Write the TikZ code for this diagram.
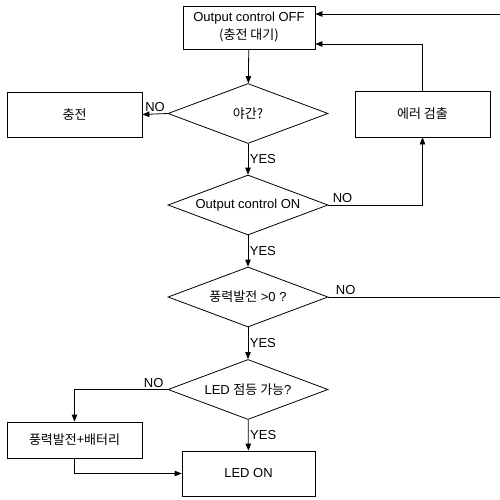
\documentclass[tikz,border=0pt]{standalone}
\usepackage{fontspec}
\setmainfont{Liberation Sans}
\newfontfamily\kr{Noto Sans CJK KR}
\usetikzlibrary{arrows.meta,shapes.geometric}

\begin{document}
\begin{tikzpicture}[x=1pt,y=-1pt,font=\fontsize{13}{16}\selectfont,
  line width=0.8pt,>={Triangle[length=7pt,width=5.5pt]},
  procbox/.style={draw,rectangle,inner sep=0pt,align=center},
  decide/.style={draw,diamond,inner sep=0pt,minimum width=160pt,minimum height=60pt,aspect=2.67},
  lbl/.style={inner sep=1.5pt}]
  \useasboundingbox (0,0) rectangle (499,500);
  % boxes
  \node[procbox,minimum width=132pt,minimum height=43pt] (off) at (249,27.5) {Output control OFF\\[2pt]{\kr (충전 대기)}};
  \node[procbox,minimum width=135pt,minimum height=45pt] (chg) at (74.5,114.5) {\kr 충전};
  \node[procbox,minimum width=135pt,minimum height=46pt] (err) at (422.5,114) {\kr 에러 검출};
  \node[procbox,minimum width=135pt,minimum height=36pt] (bat) at (74.5,440) {\kr 풍력발전+배터리};
  \node[procbox,minimum width=133pt,minimum height=45pt] (led) at (248.5,473.5) {LED ON};
  % decisions
  \node[decide] (night) at (248,113.5) {\kr 야간?};
  \node[decide] (ctrl) at (248,205) {Output control ON};
  \node[decide] (wind) at (248,297) {{\kr 풍력발전} >0 ?};
  \node[decide] (lamp) at (248,389.5) {LED {\kr 점등 가능}?};
  \coordinate (rim) at (501,0);
  % connectors
  \draw[->] (off) -- (night);
  \draw[->] (night.west) -- node[lbl,above]{NO} (chg.east);
  \draw[->] (night) -- node[lbl,right,pos=0.5]{YES} (ctrl);
  \draw[->] (ctrl.east) -- node[lbl,above,pos=0.15]{NO} (ctrl.east -| err) -- (err.south);
  \draw[->] (err.north) |- ([yshift=-16.5pt]off.east);
  \draw[->] (ctrl) -- node[lbl,right,pos=0.5]{YES} (wind);
  \draw[->] (wind.east) -- node[lbl,above,pos=0.1]{NO} (wind.east -| rim) -- ([yshift=13.5pt]off.east -| rim) -- ([yshift=13.5pt]off.east);
  \draw[->] (wind) -- node[lbl,right,pos=0.5]{YES} (lamp);
  \draw[->] (lamp.west) -- node[lbl,above,pos=0.15]{NO} (lamp.west -| bat) -- (bat.north);
  \draw[->] (lamp) -- node[lbl,right,pos=0.5]{YES} (led);
  \draw[->] (bat.south) |- (led.west);
\end{tikzpicture}
\end{document}
